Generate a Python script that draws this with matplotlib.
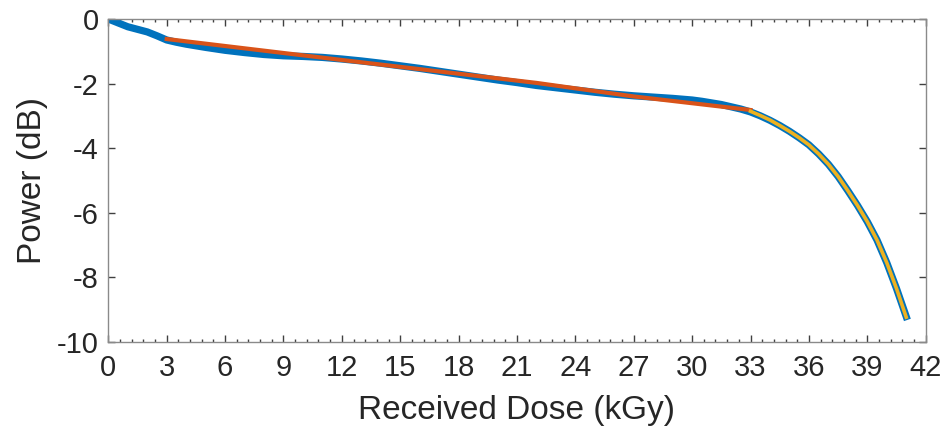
import numpy as np
import matplotlib
matplotlib.use("Agg")
import matplotlib.pyplot as plt
from matplotlib.ticker import MultipleLocator

# Measured power vs dose (blue)
dose = [0, 0.5, 1, 1.5, 2, 2.5, 3, 3.5, 4, 5, 6, 7, 8, 9, 10, 11, 12, 13, 14, 15, 16,
        17, 18, 19, 20, 21, 22, 23, 24, 25, 26, 27, 28, 29, 30, 30.5, 31, 31.5, 32,
        32.5, 33, 33.5, 34, 34.5, 35, 35.5, 36, 36.5, 37, 37.5, 38, 38.5, 39, 39.5,
        40, 40.5, 41]
power = [0.0, -0.12, -0.24, -0.32, -0.4, -0.52, -0.65, -0.72, -0.78, -0.88, -0.97,
         -1.04, -1.1, -1.14, -1.16, -1.19, -1.24, -1.3, -1.37, -1.45, -1.53, -1.62,
         -1.71, -1.8, -1.89, -1.97, -2.06, -2.13, -2.2, -2.27, -2.33, -2.38, -2.42,
         -2.46, -2.51, -2.55, -2.6, -2.65, -2.72, -2.79, -2.88, -3.0, -3.14, -3.3,
         -3.48, -3.68, -3.9, -4.18, -4.5, -4.88, -5.32, -5.78, -6.28, -6.85, -7.55,
         -8.35, -9.22]

# Linear fit (red), 3-33 kGy
fit1_dose = [3, 12, 22, 27, 33]
fit1_power = [-0.62, -1.27, -1.98, -2.4, -2.82]

# Steep fit (yellow), 33-41 kGy
fit2_dose = [33, 33.5, 34, 34.5, 35, 35.5, 36, 36.5, 37, 37.5, 38, 38.5, 39, 39.5,
             40, 40.5, 41]
fit2_power = [-2.86, -2.99, -3.13, -3.3, -3.48, -3.68, -3.9, -4.18, -4.5, -4.88,
              -5.32, -5.78, -6.28, -6.85, -7.55, -8.35, -9.24]

xticks = list(range(0, 43, 3))
yticks = [-10, -8, -6, -4, -2, 0]

plt.rcParams['font.family'] = ['Liberation Sans', 'DejaVu Sans']
plt.rcParams['axes.unicode_minus'] = False

fig = plt.figure(figsize=(9.46, 4.41), dpi=100)
ax = fig.add_axes([0.1145, 0.2252, 0.864, 0.7317])

ax.plot(dose, power, color='#0072BD', lw=5.2, solid_joinstyle='round')
ax.plot(fit1_dose, fit1_power, color='#D95319', lw=3.0, solid_joinstyle='round')
ax.plot(fit2_dose, fit2_power, color='#EDB120', lw=2.6, solid_joinstyle='round')

ax.set_xlim(0, 42)
ax.set_ylim(-10, 0)
ax.set_xticks(xticks)
ax.set_yticks(yticks)
ax.xaxis.set_minor_locator(MultipleLocator(0.6))

spine_c = '#8a8a8a'
for s in ax.spines.values():
    s.set_color(spine_c)
    s.set_linewidth(1.0)

ax.tick_params(axis='both', which='both', direction='in', top=True, right=True,
               color='#404040', labelcolor='#262626', labelsize=21)
ax.tick_params(axis='both', which='major', length=5, width=1.0)
ax.tick_params(axis='x', which='minor', length=2.5, width=1.0)
ax.tick_params(axis='x', which='major', pad=9)
ax.tick_params(axis='y', which='major', pad=7)

ax.set_xlabel('Received Dose (kGy)', fontsize=24, color='#262626', labelpad=9)
ax.set_ylabel('Power (dB)', fontsize=24, color='#262626', labelpad=6)

fig.savefig('out.png', dpi=100, facecolor='white')
